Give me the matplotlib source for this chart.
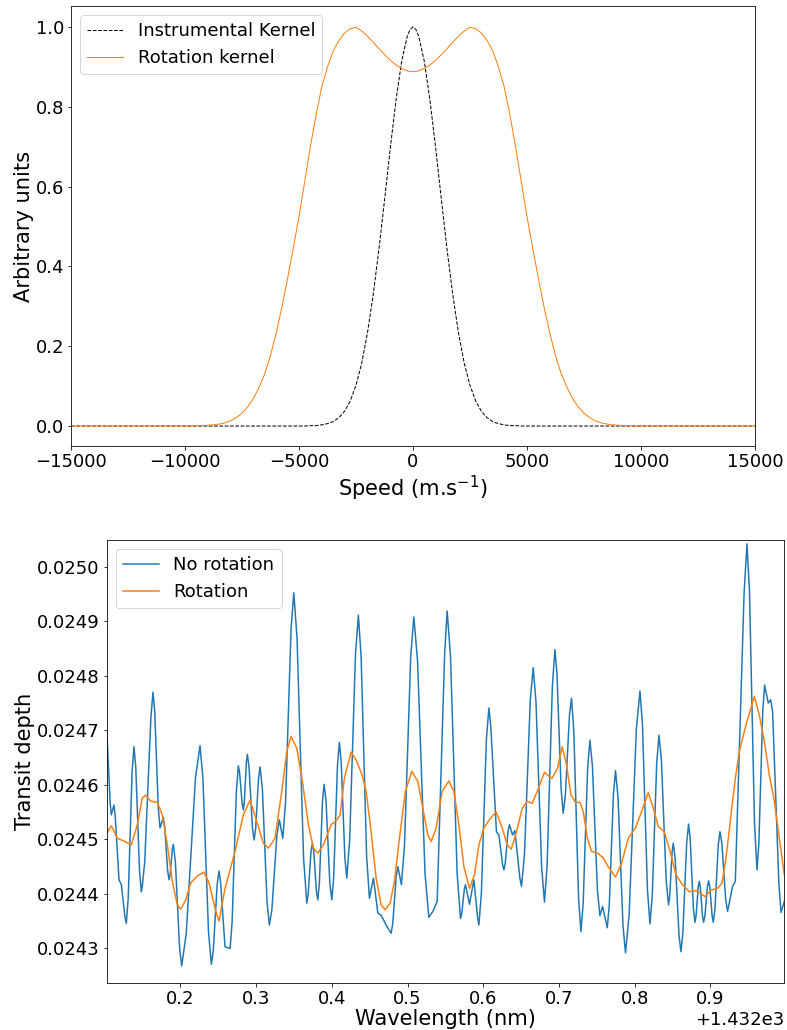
import numpy as np
import matplotlib.pyplot as plt

# top panel: kernels (speed in m/s)
speed = [-15000,
         -10000, -9750, -9500, -9250, -9000, -8750, -8500, -8250, -8000, -7750,
         -7500, -7250, -7000, -6750, -6500, -6250, -6000, -5750, -5500, -5250,
         -5000, -4750, -4500, -4250, -4000, -3750, -3500, -3250, -3000, -2750,
         -2500, -2250, -2000, -1750, -1500, -1250, -1000, -750, -500, -250, -125,
         0,
         125, 250, 500, 750, 1000, 1250, 1500, 1750, 2000, 2250, 2500,
         2750, 3000, 3250, 3500, 3750, 4000, 4250, 4500, 4750, 5000,
         5250, 5500, 5750, 6000, 6250, 6500, 6750, 7000, 7250, 7500,
         7750, 8000, 8250, 8500, 8750, 9000, 9250, 9500, 9750, 10000,
         15000]
instr_kernel = [0.0,
                0.0, 0.0, 0.0, 0.0, 0.0, 0.0, 0.0, 0.0, 0.0, 0.0,
                0.0, 0.0, 0.0, 0.0, 0.0, 0.0, 0.0, 0.0, 0.0, 0.0,
                0.0, 0.0, 0.001, 0.001, 0.003, 0.006, 0.011, 0.021, 0.037, 0.063,
                0.102, 0.157, 0.232, 0.327, 0.440, 0.565, 0.694, 0.814, 0.913, 0.977, 0.994,
                1.0,
                0.994, 0.977, 0.913, 0.814, 0.694, 0.565, 0.440, 0.327, 0.232, 0.157, 0.102,
                0.063, 0.037, 0.021, 0.011, 0.006, 0.003, 0.001, 0.001, 0.0, 0.0,
                0.0, 0.0, 0.0, 0.0, 0.0, 0.0, 0.0, 0.0, 0.0, 0.0,
                0.0, 0.0, 0.0, 0.0, 0.0, 0.0, 0.0, 0.0, 0.0, 0.0,
                0.0]
rot_kernel = [0.0,
              0.0, 0.0, 0.001, 0.001, 0.002, 0.003, 0.005, 0.008, 0.013, 0.021,
              0.032, 0.048, 0.069, 0.097, 0.131, 0.177, 0.233, 0.298, 0.370, 0.446,
              0.525, 0.612, 0.700, 0.780, 0.850, 0.900, 0.940, 0.966, 0.985, 0.996,
              0.999, 0.990, 0.977, 0.962, 0.946, 0.931, 0.917, 0.905, 0.896, 0.890, 0.8885,
              0.888,
              0.8885, 0.890, 0.896, 0.905, 0.917, 0.931, 0.946, 0.962, 0.977, 0.990, 0.999,
              0.996, 0.985, 0.966, 0.940, 0.900, 0.850, 0.780, 0.700, 0.612, 0.525,
              0.446, 0.370, 0.298, 0.233, 0.177, 0.131, 0.097, 0.069, 0.048, 0.032,
              0.021, 0.013, 0.008, 0.005, 0.003, 0.002, 0.001, 0.001, 0.0, 0.0,
              0.0]

# bottom panel: transit depth vs wavelength (nm)
wl_norot = [
    1432.1028, 1432.1073, 1432.1088, 1432.1124, 1432.1140, 1432.1190, 1432.1221, 1432.1270,
    1432.1287, 1432.1312, 1432.1363, 1432.1388, 1432.1412, 1432.1461, 1432.1485, 1432.1496,
    1432.1530, 1432.1612, 1432.1639, 1432.1662, 1432.1709, 1432.1732, 1432.1775, 1432.1794,
    1432.1832, 1432.1851, 1432.1865, 1432.1894, 1432.1908, 1432.1935, 1432.1990, 1432.2018,
    1432.2078, 1432.2200, 1432.2260, 1432.2298, 1432.2372, 1432.2410, 1432.2435, 1432.2486,
    1432.2511, 1432.2531, 1432.2590, 1432.2657, 1432.2684, 1432.2739, 1432.2766, 1432.2782,
    1432.2816, 1432.2832, 1432.2845, 1432.2872, 1432.2885, 1432.2907, 1432.2952, 1432.2974,
    1432.2994, 1432.3033, 1432.3053, 1432.3084, 1432.3145, 1432.3176, 1432.3209, 1432.3275,
    1432.3308, 1432.3353, 1432.3389, 1432.3462, 1432.3498, 1432.3541, 1432.3627, 1432.3670,
    1432.3688, 1432.3725, 1432.3744, 1432.3762, 1432.3797, 1432.3815, 1432.3836, 1432.3877,
    1432.3898, 1432.3924, 1432.3974, 1432.4000, 1432.4025, 1432.4075, 1432.4100, 1432.4124,
    1432.4173, 1432.4198, 1432.4236, 1432.4313, 1432.4351, 1432.4387, 1432.4460, 1432.4497,
    1432.4550, 1432.4608, 1432.4651, 1432.4717, 1432.4783, 1432.4805, 1432.4850, 1432.4872,
    1432.4919, 1432.4960, 1432.5042, 1432.5083, 1432.5132, 1432.5231, 1432.5281, 1432.5334,
    1432.5391, 1432.5490, 1432.5523, 1432.5567, 1432.5655, 1432.5699, 1432.5716, 1432.5749,
    1432.5765, 1432.5818, 1432.5876, 1432.5926, 1432.5942, 1432.5975, 1432.6041, 1432.6074,
    1432.6099, 1432.6174, 1432.6206, 1432.6256, 1432.6272, 1432.6290, 1432.6327, 1432.6346,
    1432.6386, 1432.6417, 1432.6483, 1432.6505, 1432.6544, 1432.6621, 1432.6659, 1432.6696,
    1432.6771, 1432.6808, 1432.6843, 1432.6912, 1432.6946, 1432.6973, 1432.7028, 1432.7055,
    1432.7083, 1432.7138, 1432.7165, 1432.7196, 1432.7258, 1432.7289, 1432.7319, 1432.7378,
    1432.7408, 1432.7441, 1432.7507, 1432.7540, 1432.7575, 1432.7637, 1432.7664, 1432.7719,
    1432.7746, 1432.7779, 1432.7845, 1432.7878, 1432.7926, 1432.8021, 1432.8069, 1432.8102,
    1432.8168, 1432.8201, 1432.8231, 1432.8290, 1432.8320, 1432.8352, 1432.8415, 1432.8446,
    1432.8462, 1432.8493, 1432.8509, 1432.8534, 1432.8585, 1432.8610, 1432.8635, 1432.8686,
    1432.8711, 1432.8732, 1432.8774, 1432.8795, 1432.8809, 1432.8838, 1432.8852, 1432.8866,
    1432.8895, 1432.8909, 1432.8926, 1432.8959, 1432.8975, 1432.8991, 1432.9022, 1432.9037,
    1432.9059, 1432.9103, 1432.9125, 1432.9150, 1432.9201, 1432.9226, 1432.9292, 1432.9328,
    1432.9444, 1432.9482, 1432.9515, 1432.9581, 1432.9614, 1432.9639, 1432.9690, 1432.9715,
    1432.9763, 1432.9794, 1432.9820, 1432.9903, 1432.9931, 1432.9975]
depth_norot = [
    0.024701, 0.024568, 0.024545, 0.024563, 0.024543, 0.024426, 0.024417, 0.024356,
    0.024346, 0.024393, 0.024623, 0.024670, 0.024631, 0.024443, 0.024404, 0.024412,
    0.024459, 0.024725, 0.024770, 0.024734, 0.024557, 0.024521, 0.024540, 0.024523,
    0.024443, 0.024426, 0.024435, 0.024482, 0.024491, 0.024458, 0.024301, 0.024268,
    0.024327, 0.024613, 0.024672, 0.024613, 0.024330, 0.024271, 0.024296, 0.024417,
    0.024442, 0.024422, 0.024303, 0.024300, 0.024349, 0.024586, 0.024635, 0.024623,
    0.024566, 0.024554, 0.024569, 0.024641, 0.024656, 0.024633, 0.024522, 0.024499,
    0.024519, 0.024613, 0.024633, 0.024591, 0.024385, 0.024343, 0.024371, 0.024508,
    0.024536, 0.024502, 0.024568, 0.024886, 0.024952, 0.024869, 0.024466, 0.024383,
    0.024399, 0.024477, 0.024493, 0.024478, 0.024404, 0.024389, 0.024420, 0.024570,
    0.024601, 0.024570, 0.024420, 0.024389, 0.024431, 0.024636, 0.024678, 0.024642,
    0.024465, 0.024429, 0.024499, 0.024841, 0.024911, 0.024835, 0.024468, 0.024392,
    0.024429, 0.024365, 0.024361, 0.024343, 0.024328, 0.024346, 0.024432, 0.024450,
    0.024417, 0.024489, 0.024836, 0.024908, 0.024828, 0.024437, 0.024357, 0.024368,
    0.024386, 0.024841, 0.024919, 0.024837, 0.024437, 0.024355, 0.024364, 0.024408,
    0.024417, 0.024381, 0.024426, 0.024355, 0.024343, 0.024401, 0.024683, 0.024741,
    0.024708, 0.024514, 0.024508, 0.024453, 0.024444, 0.024456, 0.024515, 0.024527,
    0.024508, 0.024516, 0.024429, 0.024414, 0.024473, 0.024756, 0.024815, 0.024752,
    0.024448, 0.024385, 0.024453, 0.024780, 0.024848, 0.024804, 0.024592, 0.024548,
    0.024579, 0.024728, 0.024759, 0.024697, 0.024393, 0.024331, 0.024382, 0.024631,
    0.024682, 0.024635, 0.024407, 0.024360, 0.024377, 0.024338, 0.024380, 0.024584,
    0.024626, 0.024577, 0.024341, 0.024292, 0.024362, 0.024702, 0.024772, 0.024710,
    0.024407, 0.024345, 0.024396, 0.024640, 0.024691, 0.024646, 0.024425, 0.024380,
    0.024396, 0.024477, 0.024493, 0.024464, 0.024323, 0.024294, 0.024328, 0.024494,
    0.024528, 0.024502, 0.024374, 0.024348, 0.024359, 0.024412, 0.024423, 0.024412,
    0.024359, 0.024348, 0.024359, 0.024413, 0.024424, 0.024413, 0.024359, 0.024348,
    0.024372, 0.024490, 0.024514, 0.024493, 0.024389, 0.024368, 0.024414, 0.024423,
    0.024952, 0.025042, 0.024955, 0.024531, 0.024444, 0.024493, 0.024734, 0.024783,
    0.024750, 0.024756, 0.024735, 0.024420, 0.024366, 0.024386]

wl_rot = [1432.1028, 1432.1088, 1432.1168, 1432.1256, 1432.1353, 1432.1432, 1432.1498,
          1432.1543, 1432.1609, 1432.1696, 1432.1762, 1432.1828, 1432.1894, 1432.1960,
          1432.2005, 1432.2071, 1432.2137, 1432.2225, 1432.2313, 1432.2379, 1432.2468,
          1432.2511, 1432.2590, 1432.2723, 1432.2832, 1432.2921, 1432.3009, 1432.3096,
          1432.3162, 1432.3251, 1432.3339, 1432.3406, 1432.3462, 1432.3538, 1432.3612,
          1432.3691, 1432.3757, 1432.3815, 1432.3889, 1432.3991, 1432.4057, 1432.4110,
          1432.4166, 1432.4255, 1432.4321, 1432.4400, 1432.4453, 1432.4519, 1432.4585,
          1432.4651, 1432.4704, 1432.4770, 1432.4827, 1432.4893, 1432.4972, 1432.5057,
          1432.5136, 1432.5210, 1432.5268, 1432.5312, 1432.5378, 1432.5457, 1432.5546,
          1432.5612, 1432.5678, 1432.5744, 1432.5818, 1432.5884, 1432.5942, 1432.6008,
          1432.6095, 1432.6170, 1432.6250, 1432.6316, 1432.6369, 1432.6439, 1432.6514,
          1432.6580, 1432.6646, 1432.6712, 1432.6808, 1432.6857, 1432.6910, 1432.6980,
          1432.7042, 1432.7099, 1432.7157, 1432.7218, 1432.7276, 1432.7320, 1432.7376,
          1432.7429, 1432.7509, 1432.7584, 1432.7650, 1432.7746, 1432.7826, 1432.7914,
          1432.8011, 1432.8090, 1432.8178, 1432.8258, 1432.8310, 1432.8390, 1432.8478,
          1432.8544, 1432.8631, 1432.8720, 1432.8799, 1432.8852, 1432.8927, 1432.9007,
          1432.9094, 1432.9152, 1432.9205, 1432.9271, 1432.9328, 1432.9380, 1432.9469,
          1432.9579, 1432.9645, 1432.9711, 1432.9777, 1432.9843, 1432.9909, 1432.9975]
depth_rot = [0.024511, 0.024525, 0.024502, 0.024497, 0.024490, 0.024527, 0.024576,
             0.024581, 0.024570, 0.024568, 0.024545, 0.024490, 0.024423, 0.024380,
             0.024372, 0.024389, 0.024420, 0.024433, 0.024440, 0.024420, 0.024368,
             0.024350, 0.024410, 0.024478, 0.024545, 0.024572, 0.024533, 0.024493,
             0.024484, 0.024502, 0.024588, 0.024661, 0.024689, 0.024667, 0.024606,
             0.024527, 0.024484, 0.024475, 0.024490, 0.024527, 0.024534, 0.024545,
             0.024612, 0.024660, 0.024646, 0.024618, 0.024588, 0.024514, 0.024429,
             0.024380, 0.024371, 0.024383, 0.024423, 0.024502, 0.024588, 0.024625,
             0.024606, 0.024551, 0.024508, 0.024496, 0.024521, 0.024588, 0.024607,
             0.024588, 0.024527, 0.024450, 0.024410, 0.024435, 0.024490, 0.024521,
             0.024539, 0.024550, 0.024521, 0.024490, 0.024482, 0.024514, 0.024557,
             0.024570, 0.024566, 0.024588, 0.024623, 0.024617, 0.024612, 0.024631,
             0.024670, 0.024637, 0.024582, 0.024568, 0.024568, 0.024551, 0.024502,
             0.024478, 0.024475, 0.024466, 0.024450, 0.024431, 0.024456, 0.024502,
             0.024521, 0.024551, 0.024586, 0.024551, 0.024524, 0.024514, 0.024472,
             0.024435, 0.024417, 0.024404, 0.024406, 0.024403, 0.024395, 0.024407,
             0.024410, 0.024420, 0.024466, 0.024545, 0.024612, 0.024661, 0.024710,
             0.024762, 0.024728, 0.024680, 0.024618, 0.024570, 0.024502, 0.024435]

fig = plt.figure(figsize=(787 / 72, 1030 / 72), dpi=72)

ax1 = fig.add_axes([0.0902, 0.5670, 0.8691, 0.4272])
ax1.plot(speed, instr_kernel, 'k--', lw=1.0, label='Instrumental Kernel')
ax1.plot(speed, rot_kernel, color='tab:orange', lw=1.0, label='Rotation kernel')
ax1.set_xlim(-15000, 15000)
ax1.set_ylim(-0.05, 1.0526)
ax1.set_xlabel('Speed (m.s$^{-1}$)', fontsize=21, labelpad=3)
ax1.set_ylabel('Arbitrary units', fontsize=21, labelpad=1)
ax1.tick_params(labelsize=18)
ax1.legend(loc='upper left', fontsize=18)

ax2 = fig.add_axes([0.1356, 0.0453, 0.8610, 0.4304])
ax2.plot(wl_norot, depth_norot, color='tab:blue', lw=1.5, label='No rotation')
ax2.plot(wl_rot, depth_rot, color='tab:orange', lw=1.5, label='Rotation')
ax2.set_xlim(1432.1028, 1432.9975)
ax2.set_ylim(0.024236, 0.025049)
ax2.set_xlabel('Wavelength (nm)', fontsize=21, labelpad=1)
ax2.set_ylabel('Transit depth', fontsize=21, labelpad=2)
ax2.tick_params(labelsize=18)
ax2.xaxis.get_offset_text().set_fontsize(18)
ax2.legend(loc='upper left', fontsize=18)

fig.savefig('out.png', dpi=72)
